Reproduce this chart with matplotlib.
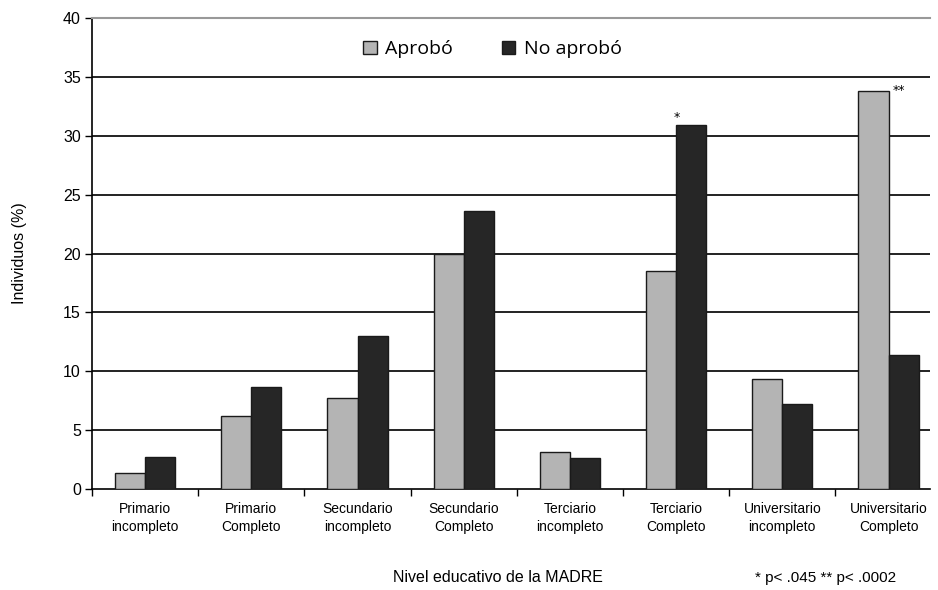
import matplotlib
matplotlib.use("Agg")
import matplotlib.pyplot as plt
import numpy as np
from matplotlib import font_manager as fm

categories = ["Primario\nincompleto", "Primario\nCompleto", "Secundario\nincompleto",
              "Secundario\nCompleto", "Terciario\nincompleto", "Terciario\nCompleto",
              "Universitario\nincompleto", "Universitario\nCompleto"]
aprobo = [1.4, 6.2, 7.7, 20.0, 3.1, 18.5, 9.3, 33.8]
no_aprobo = [2.7, 8.7, 13.0, 23.6, 2.6, 30.9, 7.2, 11.4]
series_labels = ["Aprobó", "No aprobó"]
y_ticks = [0, 5, 10, 15, 20, 25, 30, 35, 40]

names = {f.name for f in fm.fontManager.ttflist}
narrow = "Liberation Sans Narrow" if "Liberation Sans Narrow" in names else "Liberation Sans"

fig = plt.figure(figsize=(9.38, 5.90), dpi=100)
W, H = 938, 590
left, right, top, bottom = 92, 930, 18, 489
ax = fig.add_axes([left / W, 1 - bottom / H, (right - left) / W, (bottom - top) / H])

x = np.arange(len(categories))
bw = 0.283
ax.bar(x - bw / 2, aprobo, bw, color="#b4b4b4", edgecolor="#1a1a1a", linewidth=1.0,
       label=series_labels[0], zorder=3)
ax.bar(x + bw / 2, no_aprobo, bw, color="#262626", edgecolor="#1a1a1a", linewidth=1.0,
       label=series_labels[1], zorder=3)

for v in y_ticks[1:-1]:
    ax.axhline(v, color="#111111", linewidth=1.3, zorder=1)

ax.spines["top"].set_color("#999999")
ax.spines["top"].set_linewidth(1.5)
ax.spines["right"].set_visible(False)
ax.spines["left"].set_linewidth(1.2)
ax.spines["bottom"].set_linewidth(1.2)

ax.set_yticks(y_ticks)
ax.set_yticklabels([str(t) for t in y_ticks], fontsize=11.5, family="Liberation Sans")
ax.tick_params(axis="y", direction="out", length=5, width=1.0, pad=3)

ax.set_xticks(np.arange(len(categories) + 1) - 0.5)
ax.set_xticklabels([""] * (len(categories) + 1))
ax.tick_params(axis="x", direction="out", length=5, width=1.0)

span = (right - left) / 106.2
ax.set_xlim(-0.5, -0.5 + span)
ax.set_ylim(0, 40)

for i, c in enumerate(categories):
    ax.text(i, -1.1, c, ha="center", va="top", fontsize=10, family=narrow,
            linespacing=1.35)

# significance marks
ax.annotate("*", xy=(5 + bw / 2, no_aprobo[5]), xytext=(-10, 1), textcoords="offset points",
            ha="center", va="bottom", fontsize=9, family="DejaVu Sans")
ax.annotate("**", xy=(7 - bw / 2, aprobo[7]), xytext=(18, -4), textcoords="offset points",
            ha="center", va="bottom", fontsize=9, family="DejaVu Sans")

ax.set_ylabel("Individuos (%)", fontsize=11.5, family="Liberation Sans", labelpad=26)

leg = ax.legend(loc="upper center", bbox_to_anchor=(0.478, 0.99), ncol=2, frameon=False,
                prop={"family": "Open Sans", "size": 14}, handlelength=0.7,
                handleheight=0.7, handletextpad=0.45, columnspacing=2.5)
for h in leg.legend_handles:
    h.set_linewidth(1.0)

fig.text(498 / W, 1 - 578 / H, "Nivel educativo de la MADRE", ha="center", va="center",
         fontsize=11.5, family="Liberation Sans")
fig.text(826 / W, 1 - 578 / H, "* p< .045 ** p< .0002", ha="center", va="center",
         fontsize=11, family="Liberation Sans")

fig.savefig("out.png", dpi=100)
